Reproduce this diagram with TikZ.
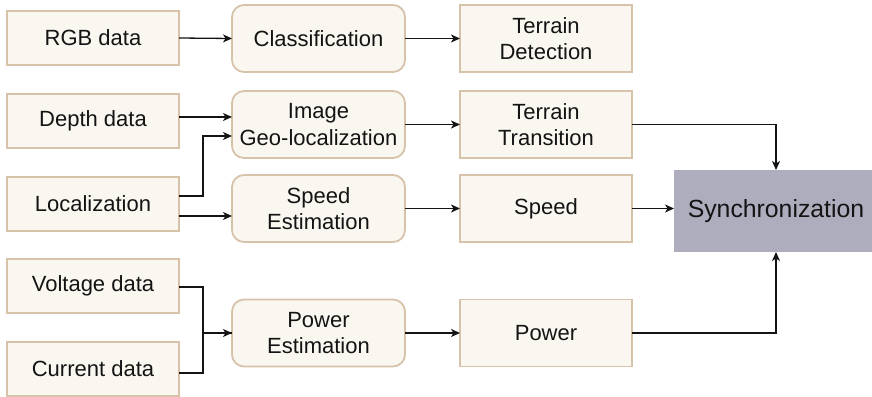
\documentclass[tikz,border=0pt]{standalone}
\usepackage{fontspec}
\setmainfont{Liberation Sans}
\usetikzlibrary{arrows.meta}
\definecolor{boxfill}{RGB}{250,247,240}
\definecolor{boxline}{RGB}{214,195,170}
\definecolor{syncfill}{RGB}{173,173,190}
\definecolor{ink}{RGB}{20,20,20}
\tikzset{
  databox/.style={draw=boxline, fill=boxfill, line width=1.8pt, inner sep=0pt, outer sep=0pt,
    minimum width=172pt, minimum height=54pt, align=center, text=ink,
    font=\fontsize{22}{26.4}\selectfont},
  procbox/.style={databox, rounded corners=12pt, minimum width=173pt, minimum height=67pt},
  outbox/.style={databox, minimum height=67pt},
  syncbox/.style={fill=syncfill, draw=none, inner sep=0pt, outer sep=0pt,
    minimum width=204pt, minimum height=82pt, text=ink,
    font=\fontsize{24.8}{29}\selectfont},
  conn/.style={draw=ink, line width=1.3pt},
  arr/.style={conn, -{Stealth[length=9pt,width=8pt,inset=2.5pt]}},
}
\begin{document}
\begin{tikzpicture}[x=1pt,y=-1pt]
\useasboundingbox (0,0) rectangle (872,396);

% input data
\node[databox] (rgb)   at (93,38)  {RGB data};
\node[databox] (depth) at (93,121) {Depth data};
\node[databox] (loc)   at (93,204) {Localization};
\node[databox] (volt)  at (93,286) {Voltage data};
\node[databox] (curr)  at (93,369) {Current data};

% processing steps
\node[procbox] (cls)    at (318.5,38.5)  {Classification};
\node[procbox] (geo)    at (318.5,124.5) {Image\\Geo-localization};
\node[procbox] (spdest) at (318.5,208.5) {Speed\\Estimation};
\node[procbox] (powest) at (318.5,333)   {Power\\Estimation};

% derived quantities
\node[outbox] (td)  at (546,38.5)  {Terrain\\Detection};
\node[outbox] (tt)  at (546,124.5) {Terrain\\Transition};
\node[outbox] (spd) at (546,208.5) {Speed};
\node[outbox] (pow) at (546,333)   {Power};

\node[syncbox] (sync) at (776,211) {Synchronization};

% connectors
\draw[arr] (rgb.east) -- (cls.west);
\draw[arr] (cls.east) -- (td.west);
\draw[arr] ([yshift=4pt]depth.east) coordinate (d1) -- (d1 -| geo.west);
\draw[arr] ([yshift=8pt]loc.east) -- ++(24,0) |- ([yshift=-11.5pt]geo.west);
\draw[arr] ([yshift=-12pt]loc.east) coordinate (l2) -- (l2 -| spdest.west);
\draw[arr] ([yshift=-1pt]volt.east) -- ++(24,0) |- (powest.west);
\draw[conn] ([yshift=-4pt]curr.east) -- ++(24,0) |- (powest.west);
\draw[arr] (geo.east) -- (tt.west);
\draw[arr] (spdest.east) -- (spd.west);
\draw[arr] (powest.east) -- (pow.west);
\draw[arr] (spd.east) -- (spd.east -| sync.west);
\draw[arr] (tt.east) -| (sync.north);
\draw[arr] (pow.east) -| (sync.south);
\end{tikzpicture}
\end{document}
